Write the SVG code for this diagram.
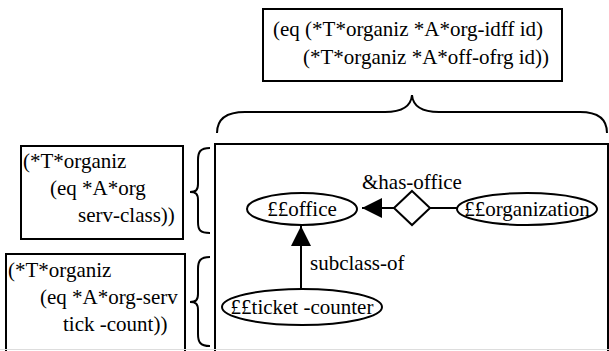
<svg xmlns="http://www.w3.org/2000/svg" width="609" height="351" viewBox="0 0 609 351">
<style>
.box{fill:#fff;stroke:#000;stroke-width:2}
.ell{fill:#fff;stroke:#000;stroke-width:2}
.brace{fill:none;stroke:#000;stroke-width:2}
.edge{fill:none;stroke:#000;stroke-width:2}
text{font-family:"Liberation Serif","DejaVu Serif",serif;font-size:21px;fill:#000}
</style>
<defs>
<marker id="tri" viewBox="0 0 10 10" refX="10" refY="5" markerWidth="20" markerHeight="20" markerUnits="userSpaceOnUse" orient="auto">
<path d="M0,0 L10,5 L0,10 Z" fill="#000"/>
</marker>
</defs>
<rect width="609" height="351" fill="#fff"/>
<g id="top-expr">
<rect class="box" x="263" y="9" width="299" height="72"/>
<text x="273" y="36" font-family="Liberation Serif">(eq (*T*organiz *A*org-idff id)</text>
<text x="303" y="64" font-family="Liberation Serif">(*T*organiz *A*off-ofrg id))</text>
</g>
<g id="top-brace">
<path class="brace" d="M217,133 C217,119 227,112 245,112 L385,112 C402,112 411,107 412,95 C413,107 422,112 439,112 L580,112 C598,112 607,119 607,133"/>
</g>
<g id="left-expr-1">
<rect class="box" x="21" y="146" width="162" height="93"/>
<text x="23" y="168" font-family="Liberation Serif">(*T*organiz</text>
<text x="50" y="195" font-family="Liberation Serif">(eq *A*org</text>
<text x="78" y="222" font-family="Liberation Serif">serv-class))</text>
</g>
<g id="left-brace-1">
<path class="brace" d="M210,148 C200,148 198,152 198,160 L198,184 C198,190 196,192 190,192 C196,192 198,194 198,200 L198,222 C198,230 200,233 210,233"/>
</g>
<g id="left-expr-2">
<rect class="box" x="6" y="254" width="179" height="110"/>
<text x="8" y="277" font-family="Liberation Serif">(*T*organiz</text>
<text x="40" y="304" font-family="Liberation Serif">(eq *A*org-serv</text>
<text x="63" y="331" font-family="Liberation Serif">tick -count))</text>
</g>
<g id="left-brace-2">
<path class="brace" d="M210,257 C200,257 198,261 198,269 L198,294 C198,300 196,302 190,302 C196,302 198,304 198,310 L198,334 C198,342 200,346 210,346"/>
</g>
<g id="frame">
<rect class="box" x="215" y="144" width="393" height="220"/>
</g>
<g id="connectors">
<line class="edge" x1="457" y1="208" x2="430" y2="208"/>
<line class="edge" x1="394" y1="208" x2="362" y2="208" marker-end="url(#tri)"/>
<line class="edge" x1="301" y1="289" x2="301" y2="226" marker-end="url(#tri)"/>
<text x="362" y="189" font-family="Liberation Serif">&amp;has-office</text>
<text x="310" y="270" font-family="Liberation Serif">subclass-of</text>
</g>
<g id="has-office">
<path class="box" d="M412,191 L430,208 L412,225 L394,208 Z"/>
</g>
<g id="office">
<ellipse class="ell" cx="302" cy="209" rx="55" ry="16"/>
<text x="302" y="216" text-anchor="middle" font-family="Liberation Serif">££office</text>
</g>
<g id="organization">
<ellipse class="ell" cx="527" cy="209" rx="70" ry="16"/>
<text x="527" y="216" text-anchor="middle" font-family="Liberation Serif">££organization</text>
</g>
<g id="ticket-counter">
<ellipse class="ell" cx="302" cy="307" rx="80" ry="18"/>
<text x="302" y="314" text-anchor="middle" font-family="Liberation Serif">££ticket -counter</text>
</g>
<line x1="0" y1="349.5" x2="609" y2="349.5" stroke="#ddd" stroke-width="1"/>
</svg>
